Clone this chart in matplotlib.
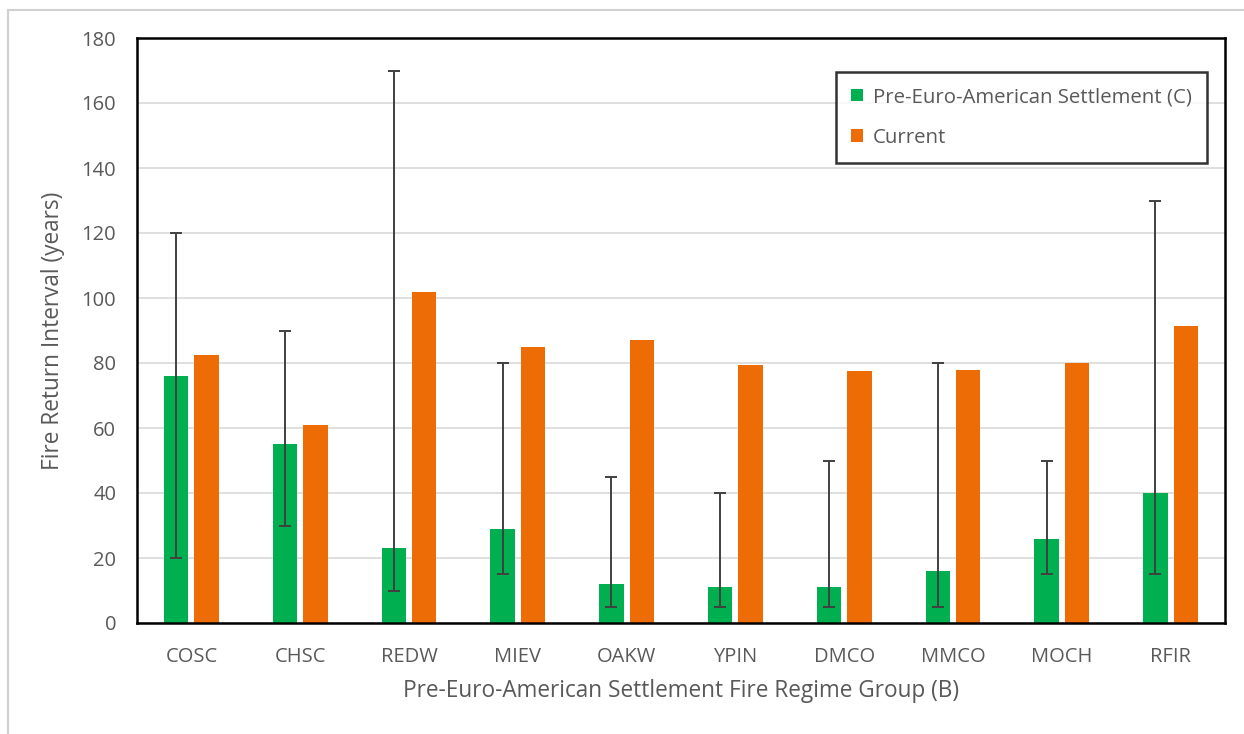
import numpy as np
import matplotlib.pyplot as plt
from matplotlib.patches import Rectangle

plt.rcParams['font.family'] = ['Open Sans', 'DejaVu Sans']

groups = ['COSC', 'CHSC', 'REDW', 'MIEV', 'OAKW', 'YPIN', 'DMCO', 'MMCO', 'MOCH', 'RFIR']
pre_mean = [76, 55, 23, 29, 12, 11, 11, 16, 26, 40]
pre_low = [20, 30, 10, 15, 5, 5, 5, 5, 15, 15]
pre_high = [120, 90, 170, 80, 45, 40, 50, 80, 50, 130]
current = [82.5, 61, 102, 85, 87, 79.5, 77.5, 78, 80, 91.5]

greenColor = '#00B050'
orangeColor = '#EE6C06'
textColor = '#595959'
gridColor = '#D9D9D9'

fig = plt.figure(figsize=(12.44, 7.34), dpi=100)
ax = fig.add_axes([137/1244, 111/734, 1088/1244, 585/734])

# light outer chart frame
fig.add_artist(Rectangle((8/1244, -0.05), 1.1, (734-10)/734 + 0.05, transform=fig.transFigure,
                         fill=False, edgecolor='#D0D0D0', linewidth=1.5))

x = np.arange(len(groups))
w = 0.225
off = 0.14

pre = np.array(pre_mean)
yerr = [pre - np.array(pre_low), np.array(pre_high) - pre]

ax.bar(x - off, pre_mean, width=w, color=greenColor, label='Pre-Euro-American Settlement (C)', zorder=2)
ax.bar(x + off, current, width=w, color=orangeColor, label='Current', zorder=2)
ax.errorbar(x - off, pre_mean, yerr=yerr, fmt='none', ecolor='#404040', elinewidth=1.4,
            capsize=4.5, capthick=1.4, zorder=3)

ax.set_xlim(-0.5, len(groups) - 0.5)
ax.set_ylim(0, 180)
ax.set_yticks(range(0, 181, 20))
ax.set_xticks(x)
ax.set_xticklabels(groups)
ax.yaxis.grid(True, color=gridColor, linewidth=1.2, zorder=0)
ax.set_axisbelow(True)

for s in ax.spines.values():
	s.set_color('black')
	s.set_linewidth(1.8)

ax.tick_params(axis='both', length=0, labelsize=14.5, colors=textColor)
ax.tick_params(axis='y', pad=15)
ax.tick_params(axis='x', pad=17)

ax.set_xlabel('Pre-Euro-American Settlement Fire Regime Group (B)', fontsize=16.3, color=textColor, labelpad=9)
ax.set_ylabel('Fire Return Interval (years)', fontsize=16.3, color=textColor, labelpad=12)

leg = ax.legend(loc='upper left', bbox_to_anchor=(0.6425, 0.942), fontsize=14.7, frameon=True,
                fancybox=False, edgecolor='black', handlelength=0.55, handleheight=0.55,
                handletextpad=0.5, borderpad=0.75, labelspacing=1.0, borderaxespad=0)
leg.get_frame().set_linewidth(1.8)
for t in leg.get_texts():
	t.set_color(textColor)
leg.set_zorder(5)

fig.savefig('out.png', dpi=100)
